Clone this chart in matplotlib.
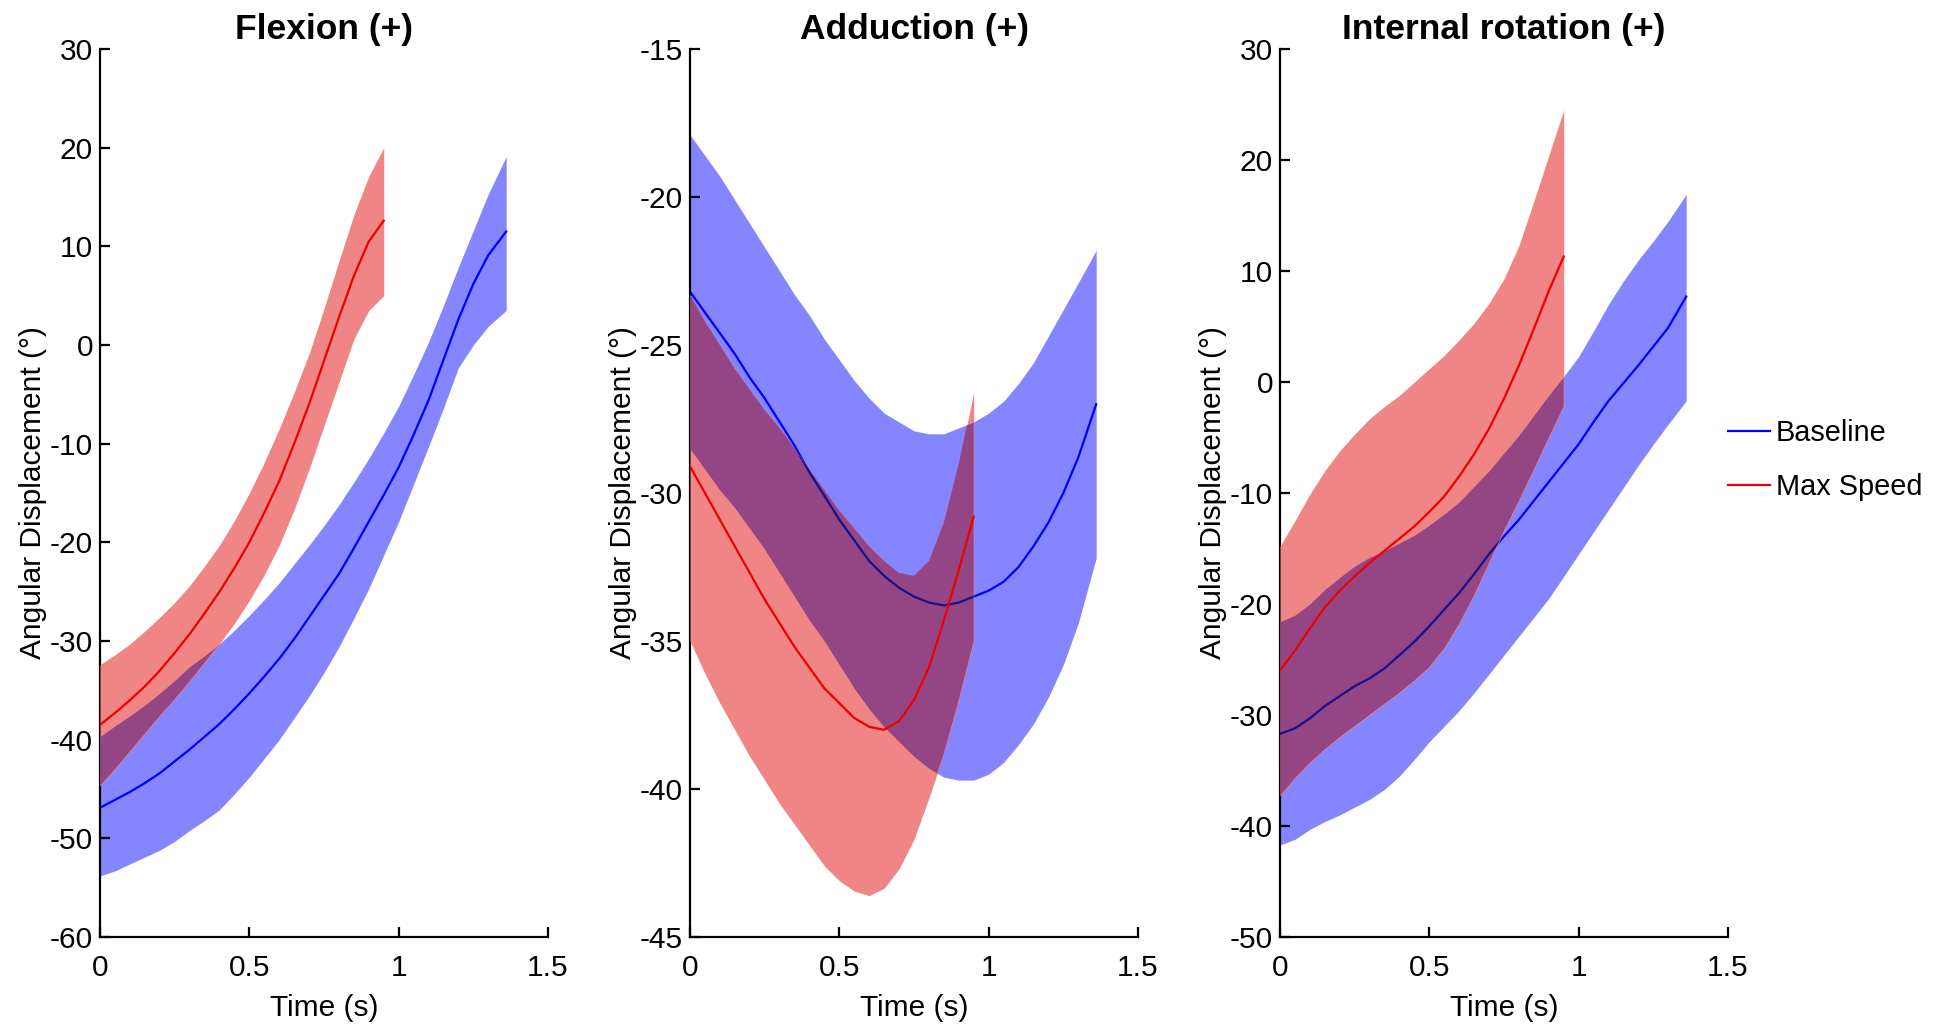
import matplotlib
matplotlib.use("Agg")
import matplotlib.pyplot as plt

plt.rcParams["font.family"] = ["Liberation Sans", "DejaVu Sans"]
plt.rcParams["axes.unicode_minus"] = False

# Time samples (s)
t_baseline = [0.00, 0.05, 0.10, 0.15, 0.20, 0.25, 0.30, 0.35, 0.40, 0.45,
              0.50, 0.55, 0.60, 0.65, 0.70, 0.75, 0.80, 0.85, 0.90, 0.95,
              1.00, 1.05, 1.10, 1.15, 1.20, 1.25, 1.30, 1.36]
t_maxspeed = [0.00, 0.05, 0.10, 0.15, 0.20, 0.25, 0.30, 0.35, 0.40, 0.45,
              0.50, 0.55, 0.60, 0.65, 0.70, 0.75, 0.80, 0.85, 0.90, 0.95]

# Flexion (+)
flex_base_mean = [-46.9, -46.1, -45.3, -44.4, -43.4, -42.2, -41.0, -39.7, -38.4, -36.9,
                  -35.3, -33.6, -31.8, -29.8, -27.6, -25.4, -23.2, -20.6, -17.9, -15.2,
                  -12.4, -9.1, -5.6, -1.5, 2.6, 6.2, 9.1, 11.5]
flex_base_upper = [-39.7, -38.6, -37.6, -36.5, -35.3, -34.0, -32.6, -31.5, -30.3, -28.9,
                   -27.4, -25.8, -24.1, -22.2, -20.3, -18.3, -16.2, -13.9, -11.5, -8.9,
                   -6.2, -3.0, 0.3, 4.0, 7.9, 11.6, 15.3, 19.1]
flex_base_lower = [-53.8, -53.3, -52.6, -51.9, -51.2, -50.3, -49.2, -48.2, -47.1, -45.5,
                   -43.8, -41.9, -40.0, -37.8, -35.6, -33.2, -30.6, -27.7, -24.7, -21.3,
                   -17.9, -14.1, -10.3, -6.4, -2.3, 0.0, 1.9, 3.5]
flex_max_mean = [-38.5, -37.3, -36.0, -34.6, -33.0, -31.2, -29.3, -27.2, -25.0, -22.6,
                 -20.0, -17.0, -13.8, -10.0, -6.0, -1.6, 2.8, 7.0, 10.5, 12.6]
flex_max_upper = [-32.4, -31.4, -30.3, -29.0, -27.6, -26.1, -24.4, -22.4, -20.3, -17.8,
                  -15.0, -11.9, -8.5, -4.8, -0.9, 3.7, 8.5, 13.2, 17.1, 20.0]
flex_max_lower = [-44.7, -43.0, -41.2, -39.4, -37.6, -35.9, -34.1, -32.2, -30.3, -28.2,
                  -25.9, -23.3, -20.3, -16.7, -12.6, -8.2, -3.8, 0.6, 3.5, 5.0]

# Adduction (+)
add_base_mean = [-23.2, -23.9, -24.6, -25.3, -26.1, -26.8, -27.6, -28.4, -29.3, -30.1,
                 -30.9, -31.6, -32.3, -32.8, -33.2, -33.5, -33.7, -33.8, -33.7, -33.5,
                 -33.3, -33.0, -32.5, -31.8, -31.0, -30.0, -28.8, -27.0]
add_base_upper = [-17.9, -18.6, -19.3, -20.1, -20.9, -21.7, -22.5, -23.3, -24.0, -24.8,
                  -25.5, -26.2, -26.8, -27.3, -27.6, -27.9, -28.0, -28.0, -27.8, -27.6,
                  -27.3, -26.9, -26.3, -25.6, -24.7, -23.8, -22.9, -21.8]
add_base_lower = [-28.5, -29.2, -29.9, -30.5, -31.2, -31.9, -32.7, -33.5, -34.3, -35.0,
                  -35.8, -36.6, -37.3, -37.9, -38.4, -38.9, -39.3, -39.6, -39.7, -39.7,
                  -39.5, -39.1, -38.5, -37.8, -36.9, -35.8, -34.4, -32.2]
add_max_mean = [-29.1, -30.0, -30.9, -31.8, -32.7, -33.6, -34.4, -35.2, -35.9, -36.6,
                -37.1, -37.6, -37.9, -38.0, -37.7, -37.0, -35.9, -34.3, -32.6, -30.8]
add_max_upper = [-23.3, -24.2, -25.0, -25.8, -26.5, -27.2, -27.8, -28.5, -29.2, -29.9,
                 -30.6, -31.2, -31.8, -32.3, -32.7, -32.8, -32.3, -31.0, -29.0, -26.6]
add_max_lower = [-35.0, -36.1, -37.1, -38.0, -38.9, -39.7, -40.5, -41.2, -41.9, -42.6,
                 -43.1, -43.45, -43.6, -43.35, -42.7, -41.7, -40.3, -38.8, -37.0, -35.0]

# Internal rotation (+)
ir_base_mean = [-31.7, -31.2, -30.3, -29.2, -28.3, -27.4, -26.7, -25.8, -24.6, -23.4,
                -22.0, -20.5, -19.0, -17.3, -15.5, -13.9, -12.4, -10.7, -9.0, -7.3,
                -5.6, -3.6, -1.7, -0.1, 1.5, 3.2, 4.9, 7.7]
ir_base_upper = [-21.6, -21.0, -20.0, -18.7, -17.6, -16.6, -15.8, -15.2, -14.5, -13.8,
                 -12.9, -11.9, -10.8, -9.4, -8.0, -6.4, -4.8, -3.0, -1.2, 0.5,
                 2.3, 4.6, 7.0, 9.1, 11.0, 12.7, 14.5, 16.9]
ir_base_lower = [-41.7, -41.2, -40.3, -39.6, -39.0, -38.3, -37.6, -36.7, -35.5, -34.0,
                 -32.4, -31.0, -29.6, -28.0, -26.3, -24.6, -22.9, -21.2, -19.5, -17.5,
                 -15.5, -13.5, -11.5, -9.5, -7.5, -5.6, -3.8, -1.7]
ir_max_mean = [-26.0, -24.2, -22.2, -20.3, -18.8, -17.5, -16.3, -15.2, -14.1, -13.0,
               -11.7, -10.3, -8.5, -6.5, -4.2, -1.5, 1.5, 4.8, 8.2, 11.3]
ir_max_upper = [-14.8, -12.5, -10.1, -8.0, -6.2, -4.7, -3.3, -2.2, -1.2, 0.0,
                1.2, 2.4, 3.8, 5.3, 7.1, 9.3, 12.3, 16.3, 20.4, 24.5]
ir_max_lower = [-37.3, -35.7, -34.3, -33.1, -32.0, -31.0, -30.0, -29.0, -28.0, -26.9,
                -25.7, -24.0, -21.8, -19.2, -16.3, -13.4, -10.7, -7.9, -5.0, -2.2]

titles = ["Flexion (+)", "Adduction (+)", "Internal rotation (+)"]
y_limits = [(-60, 30), (-45, -15), (-50, 30)]
y_steps = [10, 5, 10]
x_ticks = [0, 0.5, 1, 1.5]
x_ticklabels = ["0", "0.5", "1", "1.5"]
legend_labels = ["Baseline", "Max Speed"]

panels = [
    (flex_base_mean, flex_base_lower, flex_base_upper,
     flex_max_mean, flex_max_lower, flex_max_upper),
    (add_base_mean, add_base_lower, add_base_upper,
     add_max_mean, add_max_lower, add_max_upper),
    (ir_base_mean, ir_base_lower, ir_base_upper,
     ir_max_mean, ir_max_lower, ir_max_upper),
]

BLUE_LINE = "#0000FF"
RED_LINE = "#EE0000"
BLUE_FILL = "#8585FF"
RED_FILL = "#F08585"
OVERLAP_FILL = "#944684"
OVERLAP_LINE = "#16108C"

FS = 21.5

fig = plt.figure(figsize=(19.45, 10.24), dpi=100)
lefts = [100 / 1945, 690 / 1945, 1280 / 1945]
width = 448 / 1945
bottom = 87 / 1024
height = 888 / 1024

axes = []
for i, (bm, bl, bu, mm, ml, mu) in enumerate(panels):
    ax = fig.add_axes([lefts[i], bottom, width, height])
    axes.append(ax)

    # baseline band and mean
    ax.fill_between(t_baseline, bl, bu, color=BLUE_FILL, lw=0, zorder=1)
    base_line, = ax.plot(t_baseline, bm, color=BLUE_LINE, lw=1.6, zorder=2)

    # max speed band
    red_band = ax.fill_between(t_maxspeed, ml, mu, color=RED_FILL, lw=0, zorder=3)
    red_path = red_band.get_paths()[0]

    # overlap of the two bands and baseline mean seen through the red band
    overlap = ax.fill_between(t_baseline, bl, bu, color=OVERLAP_FILL, lw=0, zorder=4)
    overlap.set_clip_path(red_path, ax.transData)
    dark_line, = ax.plot(t_baseline, bm, color=OVERLAP_LINE, lw=1.6, zorder=5)
    dark_line.set_clip_path(red_path, ax.transData)

    max_line, = ax.plot(t_maxspeed, mm, color=RED_LINE, lw=1.6, zorder=6)

    lo, hi = y_limits[i]
    ax.set_xlim(0, 1.5)
    ax.set_ylim(lo, hi)
    ax.set_xticks(x_ticks)
    ax.set_xticklabels(x_ticklabels)
    ax.set_yticks(list(range(lo, hi + 1, y_steps[i])))

    for side in ("top", "right"):
        ax.spines[side].set_visible(False)
    for side in ("left", "bottom"):
        ax.spines[side].set_linewidth(1.6)
    ax.tick_params(direction="in", length=7, width=1.6, labelsize=FS)
    ax.tick_params(axis="x", pad=12)
    ax.tick_params(axis="y", pad=5)

    ax.set_title(titles[i], fontsize=25.5, fontweight="bold", pad=7)
    ax.set_xlabel("Time (s)", fontsize=FS, labelpad=9)
    ax.set_ylabel("Angular Displacement (°)", fontsize=FS, labelpad=2)

    if i == 2:
        handles = [base_line, max_line]

leg = axes[2].legend(handles, legend_labels, loc="center left",
                     bbox_to_anchor=(1.0, 0.537), frameon=False, fontsize=20.8,
                     handlelength=1.45, handletextpad=0.2, labelspacing=0.88,
                     borderpad=0, borderaxespad=0)

fig.savefig("out.png", dpi=100, facecolor="white")
